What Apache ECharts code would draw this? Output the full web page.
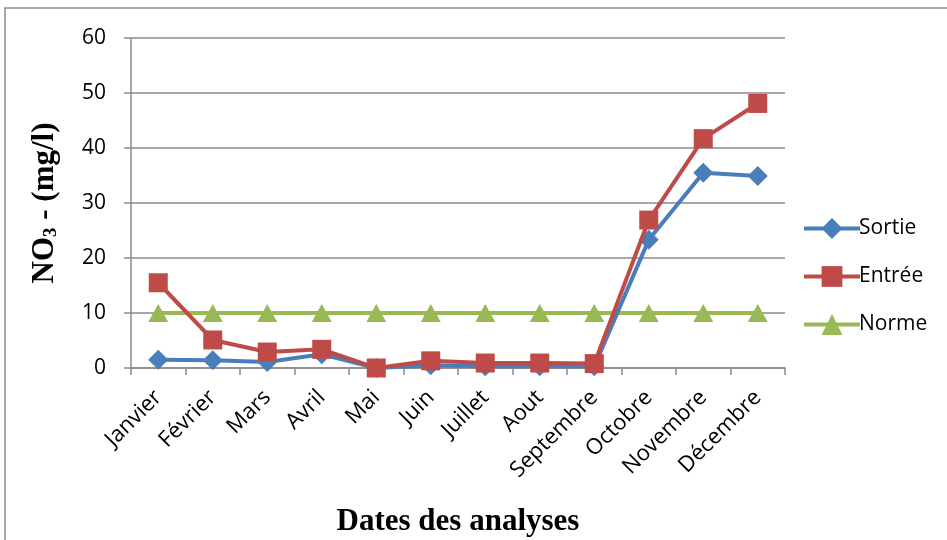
<!DOCTYPE html>
<html>
<head>
<meta charset="utf-8">
<script src="https://cdn.jsdelivr.net/npm/echarts@6/dist/echarts.min.js"></script>
<style>
  html, body { margin: 0; padding: 0; background: #fff; }
  #chart { width: 947px; height: 540px; }
</style>
</head>
<body>
<div id="chart"></div>
<script>
// Monthly nitrate concentrations (mg/l)
const months = ['Janvier', 'Février', 'Mars', 'Avril', 'Mai', 'Juin', 'Juillet', 'Aout', 'Septembre', 'Octobre', 'Novembre', 'Décembre'];
const sortie = [1.5, 1.4, 1.1, 2.5, 0, 0.5, 0.3, 0.3, 0.3, 23.3, 35.5, 34.9];
const entree = [15.5, 5.1, 2.9, 3.4, 0, 1.3, 0.9, 0.9, 0.8, 26.9, 41.7, 48.1];
const norme = [10, 10, 10, 10, 10, 10, 10, 10, 10, 10, 10, 10];
const yTicks = { min: 0, max: 60, interval: 10 };

const gray = '#8a8a8a';
const labelFont = '"Open Sans", "Liberation Sans", sans-serif';
const titleFont = '"Liberation Serif", "DejaVu Serif", serif';

const chart = echarts.init(document.getElementById('chart'), null, { renderer: 'canvas' });

chart.setOption({
  animation: false,
  backgroundColor: '#fff',
  graphic: [{
    type: 'rect',
    shape: { x: 5, y: 8, width: 960, height: 560 },
    style: { fill: 'none', stroke: '#8c8c8c', lineWidth: 1.5 },
    silent: true
  }],
  grid: { left: 131, right: 162, top: 38, bottom: 172, containLabel: false, outerBoundsMode: 'none' },
  legend: {
    orient: 'vertical',
    left: 797,
    top: 213,
    itemWidth: 56,
    itemHeight: 26,
    itemGap: 27,
    lineStyle: { width: 4 },
    textStyle: { fontFamily: labelFont, fontSize: 21, color: '#000', padding: [0, 0, 0, -6] },
    data: ['Sortie', 'Entrée', 'Norme']
  },
  xAxis: {
    type: 'category',
    data: months,
    boundaryGap: true,
    axisLine: { lineStyle: { color: gray, width: 1.5 } },
    axisTick: { show: true, length: 7, alignWithLabel: false, lineStyle: { color: gray, width: 1.5 } },
    axisLabel: { rotate: 45, interval: 0, margin: 26, fontFamily: labelFont, fontSize: 22, color: '#000' },
    name: 'Dates des analyses',
    nameLocation: 'middle',
    nameGap: 138,
    nameTextStyle: { fontFamily: titleFont, fontSize: 31, fontWeight: 'bold', color: '#000' }
  },
  yAxis: {
    type: 'value',
    min: yTicks.min,
    max: yTicks.max,
    interval: yTicks.interval,
    axisLine: { show: true, lineStyle: { color: gray, width: 1.5 } },
    axisTick: { show: true, inside: false, length: 7, lineStyle: { color: gray, width: 1.5 } },
    splitLine: { show: true, lineStyle: { color: gray, width: 1.5 } },
    axisLabel: { margin: 25, fontFamily: labelFont, fontSize: 21, color: '#000' },
    name: '{a|NO}{s|3}{a| - (mg/l)}',
    nameLocation: 'middle',
    nameRotate: 90,
    nameGap: 70,
    nameTextStyle: {
      rich: {
        a: { fontFamily: titleFont, fontSize: 31, fontWeight: 'bold', color: '#000' },
        s: { fontFamily: titleFont, fontSize: 19, fontWeight: 'bold', color: '#000', padding: [14, 0, 0, 0] }
      }
    }
  },
  series: [
    {
      name: 'Sortie', type: 'line', data: sortie,
      symbol: 'diamond', symbolSize: 20,
      lineStyle: { color: '#4A7EBB', width: 4 },
      itemStyle: { color: '#4A7EBB' },
      z: 3
    },
    {
      name: 'Entrée', type: 'line', data: entree,
      symbol: 'rect', symbolSize: 19,
      lineStyle: { color: '#BE4B48', width: 4 },
      itemStyle: { color: '#BE4B48' },
      z: 4
    },
    {
      name: 'Norme', type: 'line', data: norme,
      symbol: 'triangle', symbolSize: [20, 18],
      lineStyle: { color: '#98B954', width: 4 },
      itemStyle: { color: '#98B954' },
      z: 2
    }
  ]
});
</script>
</body>
</html>
